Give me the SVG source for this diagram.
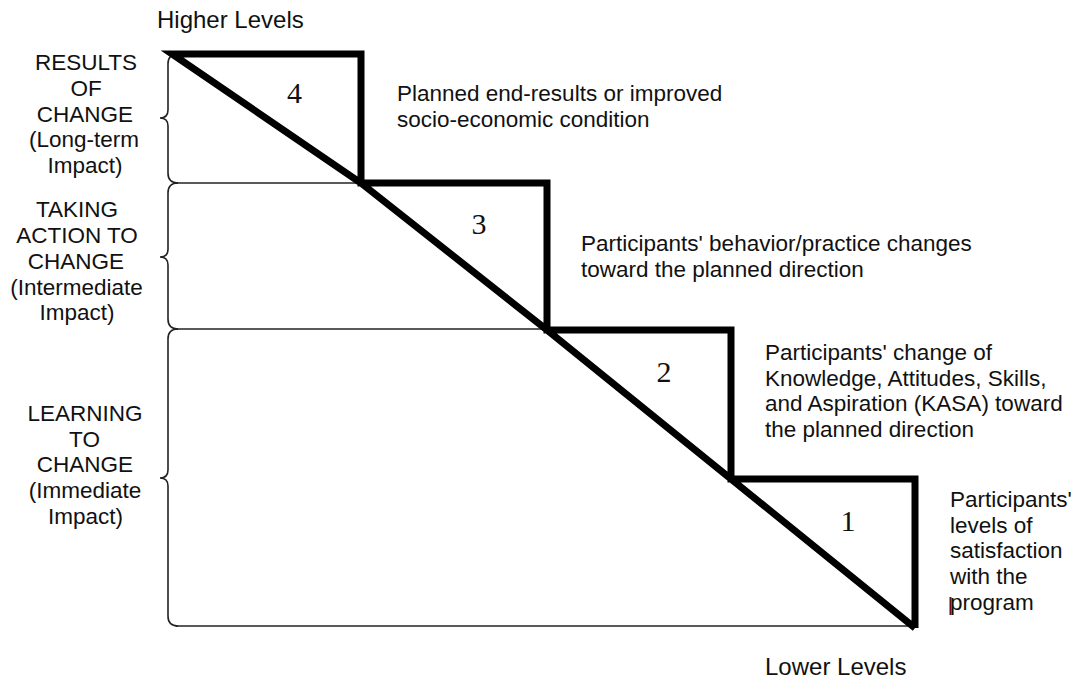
<svg xmlns="http://www.w3.org/2000/svg" width="1073" height="679" viewBox="0 0 1073 679">
<style>
.t{font-family:"Liberation Sans",Arial,sans-serif;font-size:22.5px;fill:#111}
.c{text-anchor:middle}
.lv{font-size:24px}
.n{font-family:"Liberation Serif","Times New Roman",serif;font-size:30px;fill:#111;text-anchor:middle}
.thin{fill:none;stroke:#222;stroke-width:1.6}
.thick{fill:none;stroke:#000;stroke-width:7;stroke-linejoin:miter;stroke-miterlimit:10}
</style>
<rect width="1073" height="679" fill="#fff"/>
<g id="connectors">
<path class="thin" d="M178,54 Q168,54 168,64 L168,110 Q168,118 160,118 Q168,118 168,126 L168,173 Q168,183 178,183"/>
<path class="thin" d="M178,183 Q168,183 168,193 L168,249 Q168,257 160,257 Q168,257 168,265 L168,319 Q168,329 178,329"/>
<path class="thin" d="M178,329 Q168,329 168,339 L168,470 Q168,478 160,478 Q168,478 168,486 L168,616 Q168,626 178,626"/>
<line class="thin" x1="176" y1="183" x2="362" y2="183"/>
<line class="thin" x1="176" y1="329" x2="547" y2="329"/>
<line class="thin" x1="176" y1="626" x2="915" y2="626"/>
<path class="thick" d="M915,628 L915,479 L731,479 L731,330 L547,330 L547,183 L361,183 L361,54 L172,54 L361,183 L547,330 L731,479 L915,628"/>
<line x1="950.5" y1="597" x2="950.5" y2="615" stroke="#6a1010" stroke-width="2"/>
</g>
<g id="top-label"><text class="t lv" x="157" y="28">Higher Levels</text></g>
<g id="bottom-label"><text class="t lv" x="765" y="675">Lower Levels</text></g>
<g id="level-results">
<text class="t c" x="86" y="70">RESULTS</text>
<text class="t c" x="86" y="96">OF</text>
<text class="t c" x="85" y="122">CHANGE</text>
<text class="t c" x="84" y="147">(Long-term</text>
<text class="t c" x="85" y="173">Impact)</text>
</g>
<g id="level-action">
<text class="t c" x="77" y="217">TAKING</text>
<text class="t c" x="77" y="243">ACTION TO</text>
<text class="t c" x="76" y="269">CHANGE</text>
<text class="t c" x="76.5" y="295">(Intermediate</text>
<text class="t c" x="77" y="320">Impact)</text>
</g>
<g id="level-learning">
<text class="t c" x="85" y="421">LEARNING</text>
<text class="t c" x="84.5" y="447">TO</text>
<text class="t c" x="85" y="472">CHANGE</text>
<text class="t c" x="85" y="498">(Immediate</text>
<text class="t c" x="85.5" y="524">Impact)</text>
</g>
<g id="step-4">
<text class="n" x="294.5" y="103">4</text>
<text class="t" x="397" y="101">Planned end-results or improved</text>
<text class="t" x="397" y="127">socio-economic condition</text>
</g>
<g id="step-3">
<text class="n" x="479" y="234">3</text>
<text class="t" x="581" y="251">Participants' behavior/practice changes</text>
<text class="t" x="581" y="277">toward the planned direction</text>
</g>
<g id="step-2">
<text class="n" x="664" y="382">2</text>
<text class="t" x="765" y="360">Participants' change of</text>
<text class="t" x="765" y="386">Knowledge, Attitudes, Skills,</text>
<text class="t" x="765" y="411">and Aspiration (KASA) toward</text>
<text class="t" x="765" y="437">the planned direction</text>
</g>
<g id="step-1">
<text class="n" x="848" y="531">1</text>
<text class="t" x="950" y="507">Participants'</text>
<text class="t" x="950" y="533">levels of</text>
<text class="t" x="950" y="558">satisfaction</text>
<text class="t" x="950" y="584">with the</text>
<text class="t" x="950" y="610">program</text>
</g>
</svg>
